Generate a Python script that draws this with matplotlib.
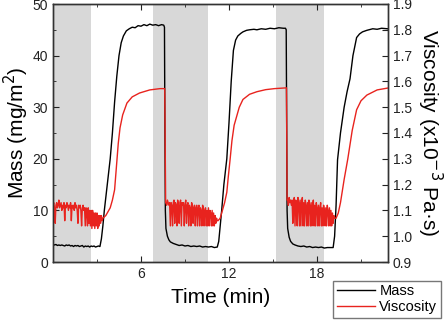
import numpy as np
import matplotlib
matplotlib.use("Agg")
import matplotlib.pyplot as plt
from matplotlib.ticker import MultipleLocator

plt.rcParams['font.family'] = ['Liberation Sans', 'DejaVu Sans']

# ---- Data ----
shade_start = [0.0, 6.82, 15.2]
shade_end = [2.59, 10.57, 18.47]

mass_t = [0.0, 0.1, 0.2, 0.3, 0.4, 0.5, 0.6, 0.7, 0.8, 0.9, 1.0, 1.1, 1.2, 1.3, 1.4, 1.5, 1.6, 1.7, 1.8, 1.9,
          2.0, 2.1, 2.2, 2.3, 2.4, 2.5, 2.6, 2.7, 2.8, 2.9, 3.0, 3.1, 3.2,
          3.3, 3.4, 3.5, 3.7, 3.9, 4.05, 4.2, 4.35, 4.5, 4.65, 4.8, 5.0, 5.2, 5.4, 5.6, 5.8, 6.0, 6.2, 6.4,
          6.6, 6.8, 7.0, 7.2, 7.4, 7.55,
          7.6, 7.63, 7.66, 7.7, 7.8, 7.9, 8.0, 8.2, 8.4, 8.6, 8.8, 9.0, 9.2, 9.4, 9.6, 9.8, 10.0, 10.2, 10.4,
          10.6, 10.8, 11.0, 11.2,
          11.3, 11.4, 11.5, 11.65, 11.85, 12.0, 12.15, 12.3, 12.45, 12.6, 12.8, 12.95, 13.2, 13.4, 13.7, 13.9,
          14.2, 14.5, 14.8, 15.1, 15.4, 15.7, 15.85,
          15.9, 15.93, 15.96, 16.0, 16.1, 16.2, 16.35, 16.5, 16.7, 16.9, 17.1, 17.3, 17.5, 17.7, 17.9, 18.1,
          18.3, 18.5, 18.7, 18.9, 19.1,
          19.2, 19.3, 19.4, 19.6, 19.85, 20.05, 20.25, 20.45, 20.7, 20.9, 21.1, 21.4, 21.8, 22.1, 22.4, 22.8]
mass_v = [3.4, 3.3, 3.4, 3.2, 3.3, 3.2, 3.3, 3.2, 3.1, 3.3, 3.2, 3.3, 3.1, 3.2, 3.0, 3.2, 3.1, 3.2, 3.0, 3.1,
          3.2, 2.9, 3.1, 3.0, 3.1, 2.9, 3.1, 3.0, 3.1, 2.9, 3.0, 3.1, 3.0,
          4.5, 7.0, 10.0, 15.0, 20.0, 25.0, 31.0, 36.0, 40.0, 42.5, 43.8, 44.8, 45.2, 45.5, 45.4, 45.8, 45.7, 46.0, 45.8,
          46.1, 45.9, 46.0, 45.8, 46.0, 45.9,
          45.5, 25.0, 10.0, 6.5, 5.0, 4.3, 3.9, 3.6, 3.4, 3.2, 3.3, 3.1, 3.2, 3.0, 3.1, 3.0, 3.1, 2.9, 3.0,
          2.9, 3.0, 2.8, 2.9,
          4.0, 7.0, 10.0, 15.0, 20.0, 27.0, 35.0, 41.0, 43.0, 43.8, 44.3, 44.6, 44.9, 45.0, 45.1, 45.0,
          45.2, 45.1, 45.3, 45.2, 45.4, 45.3, 45.3,
          45.0, 25.0, 10.0, 6.5, 4.8, 4.0, 3.5, 3.3, 3.1, 3.0, 3.1, 2.9, 3.0, 2.8, 2.9, 2.8,
          2.9, 2.7, 2.8, 2.8, 2.8,
          5.0, 11.0, 19.8, 25.0, 30.0, 33.0, 35.5, 40.0, 43.5, 44.2, 44.6, 44.9, 45.2, 45.1, 45.3, 45.2]

# viscosity, low segment 1 (t = 0.00 ... 3.40 every 0.05 min)
visc_low1 = [1.12, 1.13, 1.11, 1.05, 1.12, 1.13, 1.11, 1.12, 1.14, 1.11, 1.12, 1.13, 1.10, 1.12, 1.11, 1.13,
             1.06, 1.12, 1.11, 1.13, 1.12, 1.10, 1.12, 1.11, 1.13, 1.06, 1.12, 1.11, 1.12, 1.10, 1.13, 1.11,
             1.12, 1.10, 1.05, 1.12, 1.11, 1.12, 1.10, 1.04, 1.11, 1.12, 1.10, 1.11, 1.04, 1.11, 1.09, 1.04,
             1.11, 1.05, 1.10, 1.04, 1.10, 1.03, 1.10, 1.04, 1.09, 1.03, 1.09, 1.04, 1.09, 1.03, 1.08, 1.04,
             1.08, 1.05, 1.08, 1.06, 1.07]
# rise 1 / plateau 1 / drop 1
visc_rise1_t = [3.6, 3.9, 4.05, 4.2, 4.3, 4.36, 4.45, 4.57, 4.75, 5.04, 5.4, 5.9, 6.6, 7.0, 7.3, 7.62, 7.68]
visc_rise1_v = [1.08, 1.11, 1.14, 1.18, 1.25, 1.295, 1.36, 1.42, 1.47, 1.516, 1.54, 1.555, 1.567, 1.570, 1.572,
                1.572, 1.13]
# viscosity, low segment 2 (t = 7.70 ... 11.25 every 0.05 min)
visc_low2 = [1.13, 1.12, 1.14, 1.13, 1.12, 1.13, 1.04, 1.13, 1.12, 1.04, 1.13, 1.14, 1.05, 1.13, 1.12, 1.04,
             1.14, 1.12, 1.05, 1.13, 1.14, 1.04, 1.13, 1.12, 1.13, 1.04, 1.12, 1.14, 1.05, 1.12, 1.13, 1.04,
             1.12, 1.11, 1.04, 1.13, 1.12, 1.05, 1.11, 1.12, 1.04, 1.11, 1.12, 1.04, 1.11, 1.12, 1.04, 1.11,
             1.10, 1.04, 1.12, 1.11, 1.04, 1.10, 1.11, 1.04, 1.10, 1.04, 1.11, 1.04, 1.10, 1.09, 1.04, 1.10,
             1.04, 1.09, 1.04, 1.08, 1.05, 1.07, 1.06, 1.06]
visc_rise2_t = [11.4, 11.55, 11.7, 11.85, 11.95, 12.07, 12.2, 12.35, 12.5, 12.7, 12.95, 13.4, 13.9, 14.5, 15.1,
                15.7, 15.92, 15.96]
visc_rise2_v = [1.07, 1.10, 1.13, 1.17, 1.23, 1.295, 1.37, 1.43, 1.46, 1.50, 1.53, 1.55, 1.56, 1.568, 1.572,
                1.574, 1.575, 1.14]
# viscosity, low segment 3 (t = 16.00 ... 19.30 every 0.05 min)
visc_low3 = [1.14, 1.12, 1.15, 1.13, 1.14, 1.12, 1.14, 1.05, 1.13, 1.15, 1.04, 1.14, 1.13, 1.04, 1.15, 1.13,
             1.04, 1.14, 1.04, 1.13, 1.15, 1.04, 1.13, 1.04, 1.14, 1.12, 1.04, 1.13, 1.04, 1.14, 1.12, 1.04,
             1.13, 1.04, 1.12, 1.14, 1.04, 1.12, 1.04, 1.13, 1.11, 1.04, 1.12, 1.04, 1.11, 1.13, 1.04, 1.11,
             1.04, 1.12, 1.10, 1.04, 1.11, 1.04, 1.12, 1.10, 1.04, 1.11, 1.04, 1.10, 1.04, 1.09, 1.05, 1.08,
             1.07, 1.07, 1.07]
visc_rise3_t = [19.45, 19.6, 19.85, 20.1, 20.4, 20.7, 21.0, 21.4, 22.1, 22.8]
visc_rise3_v = [1.09, 1.13, 1.22, 1.30, 1.41, 1.49, 1.525, 1.547, 1.567, 1.574]

x_major = [6, 12, 18]

# ---- assemble viscosity series ----
t_low1 = np.round(np.arange(len(visc_low1)) * 0.05, 2)
t_low2 = np.round(7.70 + np.arange(len(visc_low2)) * 0.05, 2)
t_low3 = np.round(16.00 + np.arange(len(visc_low3)) * 0.05, 2)
visc_t = np.concatenate([t_low1, visc_rise1_t, t_low2, visc_rise2_t, t_low3, visc_rise3_t])
visc_v = np.concatenate([visc_low1, visc_rise1_v, visc_low2, visc_rise2_v, visc_low3, visc_rise3_v])

# ---- Figure ----
fig = plt.figure(figsize=(4.44, 3.20), dpi=100)
ax = fig.add_axes([53 / 444, 1 - 262 / 320, 335 / 444, 258 / 320])

for s, e in zip(shade_start, shade_end):
    ax.axvspan(s, e, facecolor='#d8d8d8', edgecolor='none', zorder=0)

ln1, = ax.plot(mass_t, mass_v, color='black', lw=1.0, label='Mass', zorder=3)
ax.set_xlim(0, 22.84)
ax.set_ylim(0, 50)
ax.xaxis.set_major_locator(MultipleLocator(6))
ax.xaxis.set_minor_locator(MultipleLocator(3))
ax.yaxis.set_major_locator(MultipleLocator(10))
ax.yaxis.set_minor_locator(MultipleLocator(5))
ax.set_xticks(x_major)
ax.tick_params(which='both', direction='in', top=True, right=False, labelsize=10, colors='#222222')
ax.tick_params(which='major', length=4)
ax.tick_params(which='minor', length=2.5)
ax.set_xlabel('Time (min)', fontsize=15, labelpad=5)
ax.set_ylabel('Mass (mg/m$^2$)', fontsize=15, labelpad=1)

ax2 = ax.twinx()
ln2, = ax2.plot(visc_t, visc_v, color='#e8231e', lw=1.0, label='Viscosity')
ax2.set_ylim(0.9, 1.9)
ax2.yaxis.set_major_locator(MultipleLocator(0.1))
ax2.yaxis.set_major_formatter(matplotlib.ticker.FormatStrFormatter('%.1f'))
ax2.tick_params(which='both', direction='in', labelsize=10, length=4, colors='#222222')
ax2.set_ylabel('Viscosity (x10$^{-3}$ Pa·s)', fontsize=15, rotation=270, labelpad=23)

for a in (ax, ax2):
    for sp in a.spines.values():
        sp.set_color('#333333')
        sp.set_linewidth(1.0)

leg = fig.legend([ln1, ln2], ['Mass', 'Viscosity'], loc='lower right',
                 bbox_to_anchor=(441 / 444, 2 / 320), fontsize=10.5, frameon=True, fancybox=False,
                 handlelength=2.6, handletextpad=0.3, borderpad=0.25, labelspacing=0.15,
                 borderaxespad=0)
leg.get_frame().set_edgecolor('#555555')
leg.get_frame().set_linewidth(1.0)

fig.savefig('out.png', dpi=100)
